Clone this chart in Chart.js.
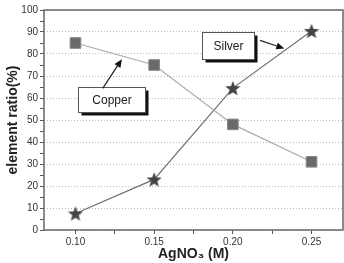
<!DOCTYPE html>
<html>
<head>
<meta charset="utf-8">
<script src="https://cdn.jsdelivr.net/npm/chart.js@4"></script>
<style>
  html, body { margin: 0; padding: 0; background: #fff; }
  #wrap { width: 344px; height: 263px; }
</style>
</head>
<body>
<div id="wrap"><canvas id="ratioChart"></canvas></div>
<script>
// values
const concentrations = [0.10, 0.15, 0.20, 0.25];
const copperRatio = [85, 75, 48, 31];
const silverRatio = [7.5, 23, 64.5, 90.5];
const xTickValues = [0.10, 0.125, 0.15, 0.175, 0.20, 0.225, 0.25];
const yTickValues = [0, 5, 10, 15, 20, 25, 30, 35, 40, 45, 50, 55, 60, 65, 70, 75, 80, 85, 90, 95, 100];

// callout boxes and arrows, in data units
const callouts = [
  { text: 'Copper', x: 0.1228, y: 59.2, w: 67, h: 25, from: [0.1173, 64.4], to: [0.1295, 77.6] },
  { text: 'Silver', x: 0.197, y: 84, w: 52, h: 27, from: [0.2173, 86.2], to: [0.2327, 82.5] }
];

function makeStar(size, color) {
  const c = document.createElement('canvas');
  c.width = size; c.height = size;
  const g = c.getContext('2d');
  const cx = size / 2, cy = size / 2 + 0.8, ro = size / 2, ri = ro * 0.42;
  g.beginPath();
  for (let i = 0; i < 10; i++) {
    const r = i % 2 === 0 ? ro : ri;
    const a = -Math.PI / 2 + i * Math.PI / 5;
    g.lineTo(cx + r * Math.cos(a), cy + r * Math.sin(a));
  }
  g.closePath();
  g.fillStyle = color;
  g.fill();
  return c;
}

const starImg = makeStar(16, '#444');

function arrow(ctx, x1, y1, x2, y2) {
  const a = Math.atan2(y2 - y1, x2 - x1);
  const len = 8, wd = 3.5;
  ctx.beginPath();
  ctx.moveTo(x1, y1);
  ctx.lineTo(x2 - len * Math.cos(a), y2 - len * Math.sin(a));
  ctx.stroke();
  ctx.beginPath();
  ctx.moveTo(x2, y2);
  ctx.lineTo(x2 - len * Math.cos(a) + wd * Math.sin(a), y2 - len * Math.sin(a) - wd * Math.cos(a));
  ctx.lineTo(x2 - len * Math.cos(a) - wd * Math.sin(a), y2 - len * Math.sin(a) + wd * Math.cos(a));
  ctx.closePath();
  ctx.fill();
}

const framePlugin = {
  id: 'frame',
  afterDraw(chart) {
    const { ctx, chartArea: a, scales } = chart;
    ctx.save();
    ctx.strokeStyle = '#666';
    ctx.lineWidth = 1.5;
    ctx.strokeRect(a.left, a.top, a.right - a.left, a.bottom - a.top);

    callouts.forEach(c => {
      const cx = scales.x.getPixelForValue(c.x);
      const cy = scales.y.getPixelForValue(c.y);
      const l = Math.round(cx - c.w / 2) + 0.5, t = Math.round(cy - c.h / 2) + 0.5;
      ctx.fillStyle = '#111';
      ctx.fillRect(l + 3, t + 3, c.w, c.h);
      ctx.fillStyle = '#fff';
      ctx.fillRect(l, t, c.w, c.h);
      ctx.strokeStyle = '#555';
      ctx.lineWidth = 1;
      ctx.strokeRect(l, t, c.w, c.h);
      ctx.fillStyle = '#222';
      ctx.font = '12px Arial, "Liberation Sans", sans-serif';
      ctx.textAlign = 'center';
      ctx.textBaseline = 'middle';
      ctx.fillText(c.text, l + c.w / 2, t + c.h / 2 + 1);

      ctx.strokeStyle = '#222';
      ctx.fillStyle = '#111';
      ctx.lineWidth = 1.2;
      arrow(ctx,
        scales.x.getPixelForValue(c.from[0]), scales.y.getPixelForValue(c.from[1]),
        scales.x.getPixelForValue(c.to[0]), scales.y.getPixelForValue(c.to[1]));
    });
    ctx.restore();
  }
};

const ctx = document.getElementById('ratioChart').getContext('2d');
new Chart(ctx, {
  type: 'line',
  data: {
    datasets: [
      {
        label: 'Copper',
        data: concentrations.map((x, i) => ({ x: x, y: copperRatio[i] })),
        borderColor: '#aaa',
        borderWidth: 1.2,
        pointStyle: 'rect',
        pointRadius: 7.5,
        pointBackgroundColor: '#6a6a6a',
        pointBorderColor: '#888',
        pointBorderWidth: 1,
        tension: 0
      },
      {
        label: 'Silver',
        data: concentrations.map((x, i) => ({ x: x, y: silverRatio[i] })),
        borderColor: '#707070',
        borderWidth: 1.2,
        pointStyle: starImg,
        tension: 0
      }
    ]
  },
  options: {
    responsive: true,
    maintainAspectRatio: false,
    animation: false,
    events: [],
    layout: { autoPadding: false, padding: { top: 10, right: 1, left: 0, bottom: 0 } },
    plugins: {
      legend: { display: false },
      tooltip: { enabled: false }
    },
    scales: {
      x: {
        type: 'linear',
        min: 0.08,
        max: 0.27,
        afterBuildTicks: s => { s.ticks = xTickValues.map(v => ({ value: v })); },
        afterFit: s => { s.height = 33; },
        ticks: {
          autoSkip: false,
          maxRotation: 0,
          padding: 2,
          color: '#333',
          font: { family: 'Arial, "Liberation Sans", sans-serif', size: 10 },
          callback: v => (Math.round(v * 1000) % 50 === 0 ? v.toFixed(2) : '')
        },
        grid: { drawOnChartArea: false, tickLength: 4, tickColor: '#555' },
        border: { display: false },
        title: {
          display: true,
          text: 'AgNO₃ (M)',
          color: '#222',
          padding: 0,
          font: { family: 'Arial, "Liberation Sans", sans-serif', size: 14, weight: 'bold' }
        }
      },
      y: {
        min: 0,
        max: 100,
        afterBuildTicks: s => { s.ticks = yTickValues.map(v => ({ value: v })); },
        afterFit: s => { s.width = 44; },
        ticks: {
          autoSkip: false,
          padding: 2,
          color: '#333',
          font: { family: 'Arial, "Liberation Sans", sans-serif', size: 10 },
          callback: v => (v % 10 === 0 ? String(v) : '')
        },
        grid: {
          tickLength: 4,
          tickColor: '#555',
          lineWidth: 1,
          color: c => (c.tick && c.tick.value % 10 === 0 ? '#bbb' : 'rgba(0,0,0,0)')
        },
        border: { display: false, dash: [1, 2] },
        title: {
          display: true,
          text: 'element ratio(%)',
          color: '#222',
          padding: { top: 5, bottom: 0 },
          font: { family: 'Arial, "Liberation Sans", sans-serif', size: 14, weight: 'bold' }
        }
      }
    }
  },
  plugins: [framePlugin]
});
</script>
</body>
</html>
